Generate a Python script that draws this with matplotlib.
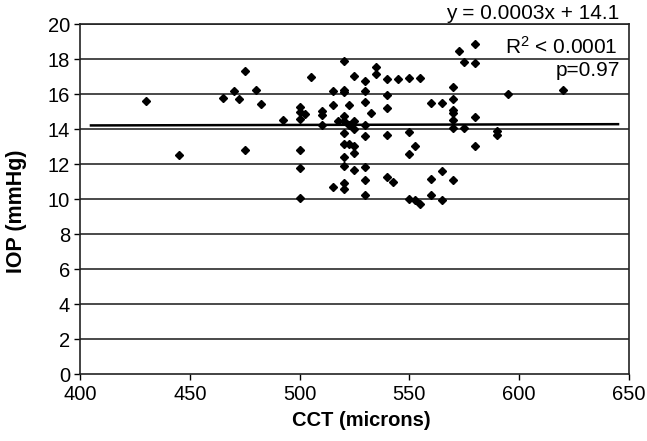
import numpy as np
import matplotlib.pyplot as plt

plt.rcParams['font.family'] = ['Liberation Sans', 'DejaVu Sans']
plt.rcParams['mathtext.fontset'] = 'custom'
plt.rcParams['mathtext.rm'] = 'Liberation Sans'
plt.rcParams['mathtext.it'] = 'Liberation Sans'

# CCT (microns) and IOP (mmHg)
cct = [430, 445, 465, 470, 472.5, 475, 475, 480, 482.5, 492.5,
       500, 500, 500, 502.5, 500, 500, 500, 505, 510, 510,
       510, 515, 515, 515, 517.5, 520, 520, 520, 520, 520,
       520, 520, 520, 520, 520, 520, 522.5, 522.5, 522.5, 525,
       525, 525, 525, 525, 525, 530, 530, 530, 530, 530,
       530, 530, 530, 532.5, 535, 535, 540, 540, 540, 540,
       540, 542.5, 545, 550, 550, 550, 552.5, 550, 552.5, 555,
       555, 560, 560, 560, 565, 565, 565, 570, 570, 570,
       570, 570, 570, 570, 572.5, 575, 575, 580, 580, 580,
       580, 590, 590, 595, 620]
iop = [15.6, 12.55, 15.8, 16.2, 15.75, 17.35, 12.8, 16.25, 15.45, 14.55,
       15.3, 15.0, 14.6, 14.9, 12.8, 11.8, 10.05, 17.0, 15.05, 14.8,
       14.25, 16.2, 15.4, 10.7, 14.5, 17.9, 16.25, 16.15, 14.75, 14.5,
       13.8, 13.15, 12.4, 11.9, 10.95, 10.6, 15.4, 14.25, 13.15, 17.05,
       14.5, 14.0, 13.05, 12.65, 11.65, 16.75, 16.2, 15.55, 14.25, 13.6,
       11.85, 11.1, 10.25, 14.95, 17.55, 17.15, 16.9, 15.95, 15.2, 13.65,
       11.3, 11.0, 16.9, 16.95, 13.85, 12.6, 13.05, 10.0, 9.95, 16.95,
       9.75, 15.5, 11.15, 10.25, 15.5, 11.6, 9.95, 16.4, 15.75, 15.1,
       14.95, 14.55, 14.05, 11.1, 18.5, 17.85, 14.05, 18.85, 17.8, 14.7,
       13.05, 13.9, 13.7, 16.0, 16.25]

slope = 0.0003
intercept = 14.1
fit_x = [405, 645]

fig = plt.figure(figsize=(6.47, 4.41), dpi=100)
ax = fig.add_axes([0.1236, 0.1512, 0.8486, 0.7937])

for y in range(2, 21, 2):
    ax.axhline(y, color='#2a2a2a', lw=1.2, zorder=1)

ax.plot(cct, iop, 'D', color='black', ms=4.4, zorder=3)
fx = np.array(fit_x)
ax.plot(fx, slope * fx + intercept, color='black', lw=1.8, zorder=2)

ax.set_xlim(400, 650)
ax.set_ylim(0, 20)
ax.set_xticks(range(400, 651, 50))
ax.set_yticks(range(0, 21, 2))
ax.tick_params(direction='out', length=4, width=1, labelsize=14.5)
ax.tick_params(axis='x', pad=4)
ax.tick_params(axis='y', pad=3)
for s in ax.spines.values():
    s.set_linewidth(1.2)
    s.set_color('#222222')

ax.set_xlabel('CCT (microns)', fontsize=14.5, fontweight='bold')
ax.set_ylabel('IOP (mmHg)', fontsize=15.5, fontweight='bold')
ax.xaxis.set_label_coords(0.512, -0.105)
ax.yaxis.set_label_coords(-0.097, 0.467)

ax.text(0.982, 1.003, 'y = 0.0003x + 14.1', transform=ax.transAxes,
        ha='right', va='bottom', fontsize=15)
ax.text(0.979, 0.936, r'R$^{2}$ < 0.0001', transform=ax.transAxes,
        ha='right', va='center', fontsize=15)
ax.text(0.983, 0.869, 'p=0.97', transform=ax.transAxes,
        ha='right', va='center', fontsize=15)

fig.savefig('out.png', dpi=100)
